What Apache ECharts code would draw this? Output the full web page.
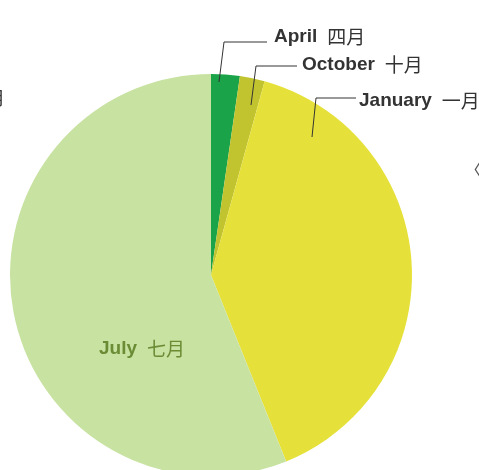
<!DOCTYPE html>
<html>
<head>
<meta charset="utf-8">
<script src="https://cdn.jsdelivr.net/npm/echarts@6/dist/echarts.min.js"></script>
<style>
html,body{margin:0;padding:0;background:#fff;}
#main{width:479px;height:470px;}
</style>
</head>
<body>
<div id="main"></div>
<script>
// Data
var categories = ['April', 'October', 'January', 'July'];
var categoriesZh = ['四月', '十月', '一月', '七月'];
var values = [23, 20, 396, 561];

// Styles
var colors = ['#1ba34a', '#c2c42f', '#e6e13a', '#c8e2a2'];
var labelLayouts = [
  {x: 274, y: 37, line: [[219, 82], [224, 42], [267, 42]]},
  {x: 302, y: 65, line: [[251, 105], [256, 66], [297, 66]]},
  {x: 359, y: 101, line: [[312, 137], [316, 98], [356, 98]]},
  {x: 99, y: 349, line: null}
];

var chart = echarts.init(document.getElementById('main'));
var pieData = categories.map(function (c, i) {
  return {name: c, value: values[i], itemStyle: {color: colors[i]}};
});
var labelData = categories.map(function (c, i) {
  var inside = i === 3;
  return {
    name: c,
    value: values[i],
    itemStyle: {color: 'rgba(0,0,0,0)'},
    label: {
      position: inside ? 'inside' : 'outside',
      formatter: inside ? '{bi|' + c + '}{ci|' + categoriesZh[i] + '}' : '{b|' + c + '}{c|' + categoriesZh[i] + '}'
    },
    labelLine: {show: !inside}
  };
});

var enFont = 'Liberation Sans, Arial, sans-serif';
var zhFont = 'Noto Sans CJK SC, sans-serif';

chart.setOption({
  animation: false,
  series: [{
    type: 'pie',
    z: 2,
    silent: true,
    center: [211, 275],
    radius: [0, 201],
    startAngle: 90,
    clockwise: true,
    data: pieData,
    label: {show: false},
    labelLine: {show: false}
  }, {
    type: 'pie',
    z: 5,
    silent: true,
    center: [211, 275],
    radius: [0, 201],
    startAngle: 90,
    clockwise: true,
    avoidLabelOverlap: false,
    data: labelData,
    label: {
      show: true,
      rich: {
        b: {fontFamily: enFont, fontWeight: 'bold', fontSize: 19, color: '#333'},
        c: {fontFamily: zhFont, fontSize: 19, color: '#333', padding: [0, 0, 0, 10]},
        bi: {fontFamily: enFont, fontWeight: 'bold', fontSize: 19, color: '#6b8c35'},
        ci: {fontFamily: zhFont, fontSize: 19, color: '#6b8c35', padding: [0, 0, 0, 10]}
      }
    },
    labelLine: {
      lineStyle: {color: '#333', width: 1}
    },
    labelLayout: function (params) {
      var l = labelLayouts[params.dataIndex];
      var o = {x: l.x, y: l.y, align: 'left', verticalAlign: 'middle'};
      if (l.line) o.labelLinePoints = l.line;
      return o;
    }
  }],
  graphic: [
    {type: 'text', left: -13, top: 89, style: {text: '月', fontSize: 18, fontFamily: zhFont, fill: '#333'}},
    {type: 'text', left: 464, top: 160, style: {text: '〈', fontSize: 18, fontFamily: zhFont, fill: '#555'}}
  ]
});
</script>
</body>
</html>
